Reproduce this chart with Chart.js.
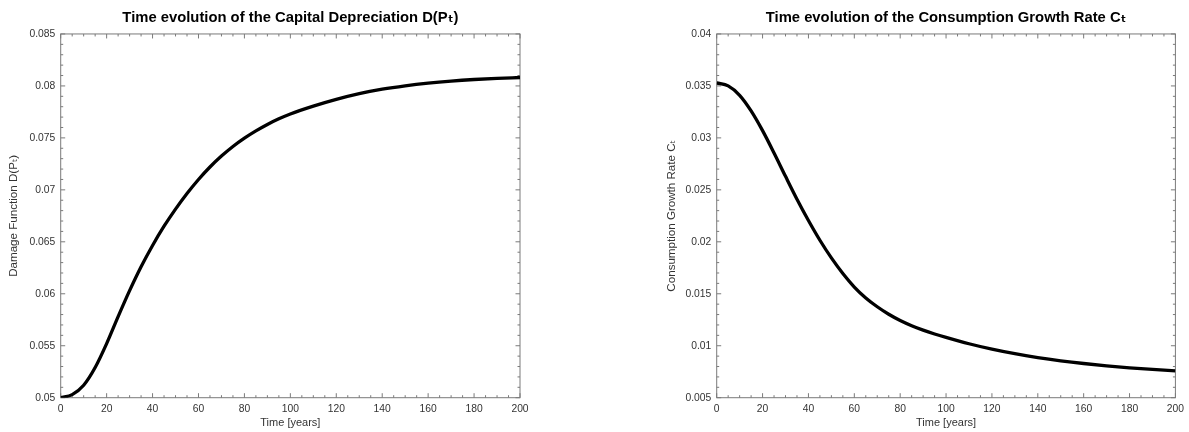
<!DOCTYPE html>
<html>
<head>
<meta charset="utf-8">
<script src="https://cdn.jsdelivr.net/npm/chart.js@4.4.1/dist/chart.umd.min.js"></script>
<style>
    html, body { margin: 0; padding: 0; background: #fff; }
    .panel { position: absolute; top: 0; height: 432px; }
    #left { left: 0; width: 594px; }
    #right { left: 594px; width: 595px; }
</style>
</head>
<body>
<div class="panel" id="left"><canvas id="damageChart" width="594" height="432"></canvas></div>
<div class="panel" id="right"><canvas id="growthChart" width="595" height="432"></canvas></div>
<script>
// time axis (years)
const years = [0, 5, 10, 15, 20, 25, 30, 35, 40, 45, 50, 55, 60, 65, 70, 75, 80, 85, 90, 95, 100,
               110, 120, 130, 140, 150, 160, 170, 180, 190, 200];

// D(P_t)
const damage = [0.0500, 0.0503, 0.0512, 0.0529, 0.0552, 0.0578, 0.0603, 0.0626, 0.06465, 0.0665, 0.06815,
                0.06965, 0.0710, 0.0722, 0.07325, 0.07417, 0.07497, 0.07567, 0.07629, 0.07683, 0.0773,
                0.07805, 0.0787, 0.07925, 0.07968, 0.08001, 0.08027, 0.08047, 0.08062, 0.08073, 0.08081];

// C_t
const growthRate = [0.0353, 0.0350, 0.0341, 0.0326, 0.0307, 0.02855, 0.0263, 0.0241, 0.02205, 0.02015, 0.01845,
                    0.01695, 0.01565, 0.0146, 0.01375, 0.01303, 0.01243, 0.01193, 0.0115, 0.01113, 0.0108,
                    0.01019, 0.00967, 0.00923, 0.00886, 0.00855, 0.00829, 0.00807, 0.00788, 0.00772, 0.00758];

const xTicks = [0, 20, 40, 60, 80, 100, 120, 140, 160, 180, 200];
const damageTicks = [0.05, 0.055, 0.06, 0.065, 0.07, 0.075, 0.08, 0.085];
const growthTicks = [0.005, 0.01, 0.015, 0.02, 0.025, 0.03, 0.035, 0.04];

const FONT = '"Liberation Sans", Arial, Helvetica, "DejaVu Sans", sans-serif';
const AXIS_COLOR = '#7a7a7a';
const TEXT_COLOR = '#333';

// matlab-like box with inward major/minor ticks on all four sides
const boxTicks = {
    id: 'boxTicks',
    beforeDatasetsDraw(chart, args, opts) {
        const { ctx, chartArea: a, scales: { x, y } } = chart;
        ctx.save();
        ctx.strokeStyle = AXIS_COLOR;
        ctx.lineWidth = 1;
        ctx.strokeRect(a.left, a.top, a.right - a.left, a.bottom - a.top);

        const xMajor = opts.xMajor, yMajor = opts.yMajor;
        ctx.beginPath();
        for (let v = x.min; v <= x.max + 1e-9; v += opts.xMinor) {
            const len = Math.abs(v / xMajor - Math.round(v / xMajor)) < 1e-6 ? 4.5 : 2.5;
            const px = x.getPixelForValue(v);
            ctx.moveTo(px, a.bottom); ctx.lineTo(px, a.bottom - len);
            ctx.moveTo(px, a.top); ctx.lineTo(px, a.top + len);
        }
        for (let v = y.min; v <= y.max + 1e-9; v += opts.yMinor) {
            const len = Math.abs(v / yMajor - Math.round(v / yMajor)) < 1e-6 ? 4.5 : 2.5;
            const py = y.getPixelForValue(v);
            ctx.moveTo(a.left, py); ctx.lineTo(a.left + len, py);
            ctx.moveTo(a.right, py); ctx.lineTo(a.right - len, py);
        }
        ctx.stroke();
        ctx.restore();
    }
};

function makeChart(id, cfg) {
    const ctx = document.getElementById(id).getContext('2d');
    return new Chart(ctx, {
        type: 'line',
        data: {
            datasets: [{
                data: years.map((t, i) => ({ x: t, y: cfg.values[i] })),
                borderColor: '#000',
                borderWidth: 3.3,
                pointRadius: 0,
                cubicInterpolationMode: 'monotone',
                fill: false
            }]
        },
        options: {
            responsive: false,
            animation: false,
            devicePixelRatio: 1,
            layout: { padding: cfg.padding },
            scales: {
                x: {
                    type: 'linear',
                    min: 0,
                    max: 200,
                    afterBuildTicks: s => { s.ticks = xTicks.map(v => ({ value: v })); },
                    afterFit: s => { s.height = 34.3; },
                    grid: { display: false, drawTicks: false },
                    border: { display: false },
                    ticks: {
                        padding: 5,
                        color: TEXT_COLOR,
                        font: { family: FONT, size: 10.3 },
                        maxRotation: 0,
                        callback: v => String(v)
                    },
                    title: {
                        display: true,
                        text: 'Time [years]',
                        color: TEXT_COLOR,
                        font: { family: FONT, size: 11 },
                        padding: { top: 0, bottom: 2 }
                    }
                },
                y: {
                    type: 'linear',
                    min: cfg.yTicks[0],
                    max: cfg.yTicks[cfg.yTicks.length - 1],
                    afterBuildTicks: s => { s.ticks = cfg.yTicks.map(v => ({ value: v })); },
                    afterFit: s => { s.width = 60.7; },
                    grid: { display: false, drawTicks: false },
                    border: { display: false },
                    ticks: {
                        padding: 5.5,
                        color: TEXT_COLOR,
                        font: { family: FONT, size: 10.3 },
                        callback: v => String(+v.toFixed(4))
                    },
                    title: {
                        display: true,
                        text: cfg.yTitle,
                        color: TEXT_COLOR,
                        font: { family: FONT, size: 11.6 },
                        padding: { top: cfg.yTitlePad, bottom: 0 }
                    }
                }
            },
            plugins: {
                legend: { display: false },
                tooltip: { enabled: false },
                title: {
                    display: true,
                    fullSize: false,
                    text: cfg.title,
                    color: '#000',
                    font: { family: FONT, size: 14.8, weight: 'bold' },
                    padding: { top: 9.1, bottom: 7.1 }
                },
                boxTicks: { xMajor: 20, xMinor: 5, yMajor: 0.005, yMinor: 0.001 }
            }
        },
        plugins: [boxTicks]
    });
}

makeChart('damageChart', {
    values: damage,
    yTicks: damageTicks,
    title: 'Time evolution of the Capital Depreciation D(Pₜ)',
    yTitle: 'Damage Function D(Pₜ)',
    yTitlePad: 7,
    padding: { left: 0, right: 74, top: 0, bottom: 0 }
});

makeChart('growthChart', {
    values: growthRate,
    yTicks: growthTicks,
    title: 'Time evolution of the Consumption Growth Rate Cₜ',
    yTitle: 'Consumption Growth Rate Cₜ',
    yTitlePad: 8.5,
    padding: { left: 62, right: 12, top: 0, bottom: 0 }
});
</script>
</body>
</html>
